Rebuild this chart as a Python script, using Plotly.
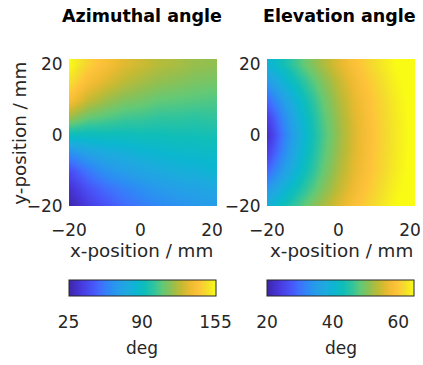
import plotly.graph_objects as go

# grid positions (mm)
x_mm = [-20, -15, -10, -5, 0, 5, 10, 15, 20]
y_mm = [-20, -15, -10, -5, 0, 5, 10, 15, 20]

# azimuthal angle (deg), rows = y from -20 to 20, columns = x from -20 to 20
azimuth_deg = [
    [25, 36, 44, 51, 56, 60, 63, 66, 68],
    [32, 44, 52, 58, 63, 67, 70, 72, 74],
    [43, 55, 64, 69, 73, 76, 79, 80, 83],
    [62, 71, 76, 79, 82, 84, 86, 87, 88],
    [90, 90, 91, 91, 92, 92, 93, 93, 94],
    [118, 109, 106, 103, 102, 100, 100, 99, 100],
    [137, 125, 118, 113, 111, 108, 107, 106, 105],
    [148, 136, 129, 123, 119, 116, 114, 112, 111],
    [155, 144, 137, 130, 126, 122, 120, 117, 116],
]

# elevation angle (deg), rows = y from -20 to 20
elevation_deg = [
    [39.5, 44.0, 48.5, 52.5, 56.2, 59.4, 62.0, 64.4, 66.3],
    [34.5, 40.0, 45.3, 50.0, 54.3, 58.0, 61.0, 63.6, 65.8],
    [29.0, 36.0, 42.6, 48.3, 53.1, 57.0, 60.2, 63.0, 65.3],
    [24.7, 33.4, 40.9, 47.2, 52.3, 56.4, 59.9, 62.7, 65.1],
    [22.0, 31.9, 40.0, 46.6, 51.9, 56.2, 59.7, 62.6, 65.0],
    [24.7, 33.4, 40.9, 47.2, 52.3, 56.4, 59.9, 62.7, 65.1],
    [29.0, 36.0, 42.6, 48.3, 53.1, 57.0, 60.2, 63.0, 65.3],
    [34.5, 40.0, 45.3, 50.0, 54.3, 58.0, 61.0, 63.6, 65.8],
    [39.5, 44.0, 48.5, 52.5, 56.2, 59.4, 62.0, 64.4, 66.3],
]

axis_ticks = [-20, 0, 20]
az_range = [25, 155]
az_ticks = [25, 90, 155]
el_range = [20, 64.8]
el_ticks = [20, 40, 60]

titles = ["Azimuthal angle", "Elevation angle"]
x_label = "x-position / mm"
y_label = "y-position / mm"
cb_label = "deg"

parula = [
    [0.00, "rgb(62,38,168)"],
    [0.08, "rgb(71,56,220)"],
    [0.16, "rgb(72,84,248)"],
    [0.22, "rgb(62,113,253)"],
    [0.28, "rgb(45,139,244)"],
    [0.34, "rgb(37,158,232)"],
    [0.40, "rgb(28,171,221)"],
    [0.46, "rgb(11,183,207)"],
    [0.52, "rgb(16,190,184)"],
    [0.58, "rgb(50,196,156)"],
    [0.64, "rgb(100,201,117)"],
    [0.70, "rgb(146,191,80)"],
    [0.76, "rgb(193,186,52)"],
    [0.82, "rgb(234,186,48)"],
    [0.88, "rgb(254,194,58)"],
    [0.94, "rgb(244,222,44)"],
    [1.00, "rgb(249,251,21)"],
]

W, H = 423, 365
FONT = "DejaVu Sans"
TXT = "#262626"


def px(xp):
    return xp / W


def py(yp):
    return 1 - yp / H


def cbar(left_px, ticks):
    return dict(
        orientation="h",
        lenmode="pixels", len=147,
        thickness=16,
        x=px(left_px), xanchor="left",
        y=py(279.5), yanchor="top",
        xpad=0, ypad=0,
        outlinewidth=1, outlinecolor="#262626",
        tickvals=ticks, ticks="outside", ticklen=12,
        tickcolor="rgba(0,0,0,0)",
        tickfont=dict(family=FONT, size=17, color=TXT),
    )


fig = go.Figure()
fig.add_trace(go.Heatmap(
    x=x_mm, y=y_mm, z=azimuth_deg, zsmooth="best",
    colorscale=parula, zmin=az_range[0], zmax=az_range[1],
    colorbar=cbar(68.5, az_ticks), xaxis="x", yaxis="y",
))
fig.add_trace(go.Heatmap(
    x=x_mm, y=y_mm, z=elevation_deg, zsmooth="best",
    colorscale=parula, zmin=el_range[0], zmax=el_range[1],
    colorbar=cbar(267, el_ticks), xaxis="x2", yaxis="y2",
))

ax_common = dict(
    range=[-20, 21.4], tickvals=axis_ticks, showgrid=False, zeroline=False,
    showline=False, ticks="outside", tickcolor="rgba(0,0,0,0)",
    tickfont=dict(family=FONT, size=17, color=TXT),
)
ydom = [py(206.5), py(59)]
fig.update_layout(
    width=W, height=H,
    margin=dict(l=0, r=0, t=0, b=0, autoexpand=False),
    paper_bgcolor="white", plot_bgcolor="white",
    xaxis=dict(domain=[px(69), px(217)], anchor="y", ticklen=8, **ax_common),
    yaxis=dict(domain=ydom, anchor="x", ticklen=2, **ax_common),
    xaxis2=dict(domain=[px(267), px(415)], anchor="y2", ticklen=8, **ax_common),
    yaxis2=dict(domain=ydom, anchor="x2", ticklen=2, **ax_common),
    showlegend=False,
)

ann = []
for t, cx in zip(titles, [142, 339]):
    ann.append(dict(text=t, x=px(cx), y=py(15.6), xref="paper", yref="paper",
                    xanchor="center", yanchor="middle", showarrow=False,
                    font=dict(family=FONT, size=17.5, color="black", weight="bold")))
for cx in [141.5, 341]:
    ann.append(dict(text=x_label, x=px(cx), y=py(250.5), xref="paper", yref="paper",
                    xanchor="center", yanchor="middle", showarrow=False,
                    font=dict(family=FONT, size=18.3, color=TXT)))
for cx in [142, 340.5]:
    ann.append(dict(text=cb_label, x=px(cx), y=py(347.5), xref="paper", yref="paper",
                    xanchor="center", yanchor="middle", showarrow=False,
                    font=dict(family=FONT, size=17, color=TXT)))
ann.append(dict(text=y_label, x=px(19.7), y=py(133), xref="paper", yref="paper",
                xanchor="center", yanchor="middle", textangle=-90, showarrow=False,
                font=dict(family=FONT, size=18.3, color=TXT)))
fig.update_layout(annotations=ann)

fig.write_html(
    "out.html",
    config={"displayModeBar": False},
    post_script="document.body.style.margin='0';document.body.style.overflow='hidden';",
)
